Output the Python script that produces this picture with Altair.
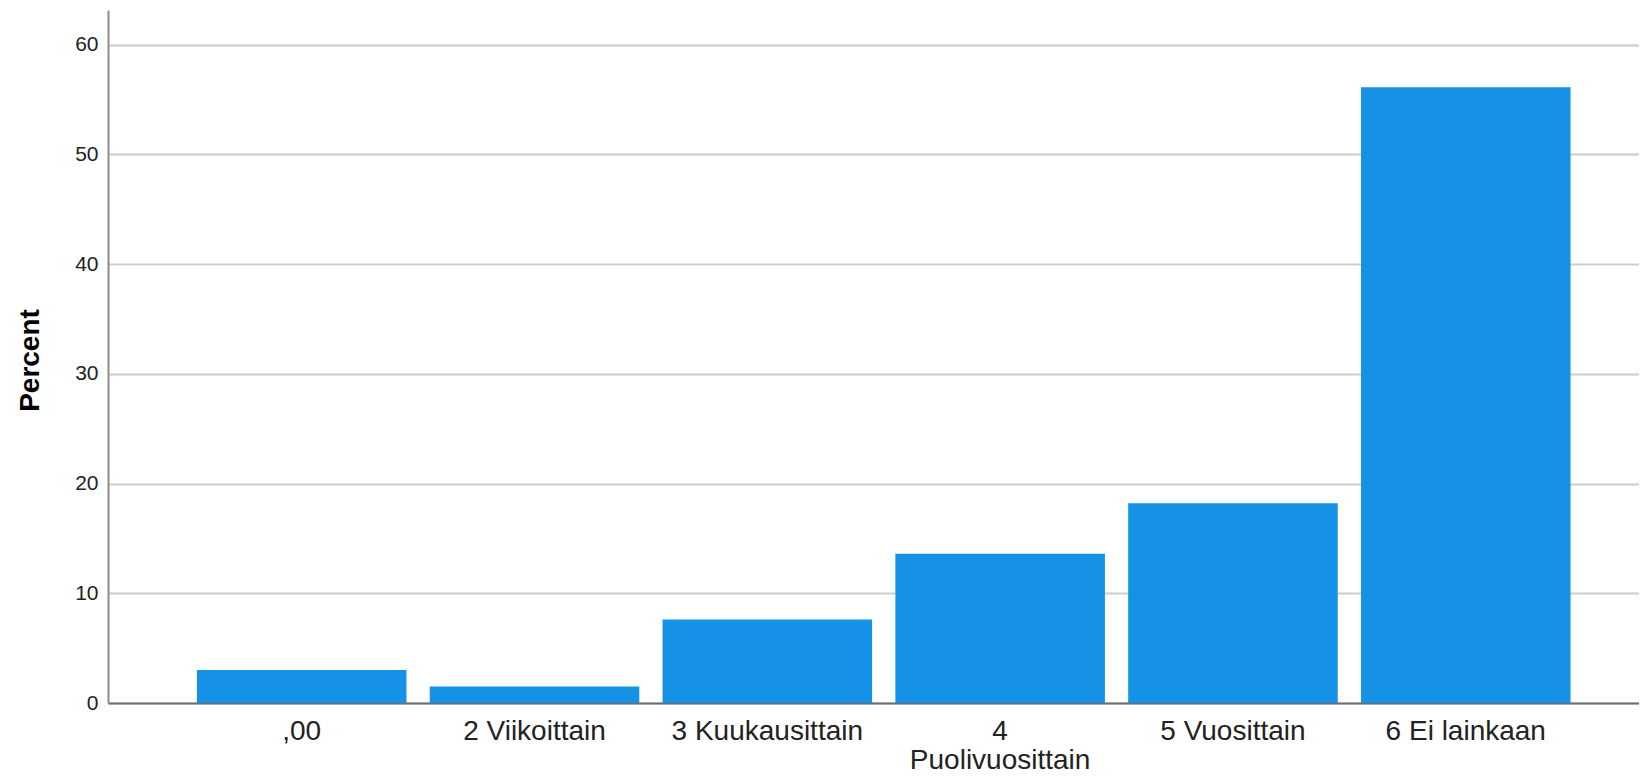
import altair as alt
import pandas as pd

categories = [",00", "2 Viikoittain", "3 Kuukausittain", "4 Puolivuosittain", "5 Vuosittain", "6 Ei lainkaan"]
percents = [3.0, 1.5, 7.6, 13.6, 18.2, 56.1]
y_ticks = [0, 10, 20, 30, 40, 50, 60]

df = pd.DataFrame({"category": categories, "percent": percents})

chart = alt.Chart(df).mark_bar(color="#1591e6").encode(
    x=alt.X(
        "category:N",
        sort=categories,
        title=None,
        scale=alt.Scale(paddingInner=0.1, paddingOuter=0.338, align=0.565),
        axis=alt.Axis(
            labelAngle=0,
            labelFont="Liberation Sans",
            labelFontSize=28,
            labelColor="#222222",
            labelPadding=14,
            labelLineHeight=29,
            labelLimit=400,
            labelExpr="length(datum.label) > 15 ? split(datum.label, ' ') : datum.label",
            ticks=False,
            domainColor="#6e6e6e",
            domainWidth=2,
            grid=False,
        ),
    ),
    y=alt.Y(
        "percent:Q",
        title="Percent",
        scale=alt.Scale(domain=[0, 63.15], nice=False, zero=True),
        axis=alt.Axis(
            values=y_ticks,
            labelFont="Liberation Sans",
            labelFontSize=21,
            labelColor="#222222",
            labelPadding=10,
            ticks=False,
            domainColor="#8c8c8c",
            domainWidth=2,
            grid=True,
            gridColor="#cccccc",
            gridWidth=2,
            titleFont="Liberation Sans",
            titleFontSize=28,
            titleFontWeight="bold",
            titleColor="#000000",
            titleX=-78,
            titleY=350,
            titleBaseline="middle",
            titleAngle=270,
        ),
    ),
).properties(
    width=1531,
    height=693,
    autosize=alt.AutoSizeParams(type="none"),
    padding={"left": 100, "top": 2, "right": 0, "bottom": 71},
).configure_view(stroke=None)

chart.save("out.html", embed_options={"renderer": "svg", "actions": False})
